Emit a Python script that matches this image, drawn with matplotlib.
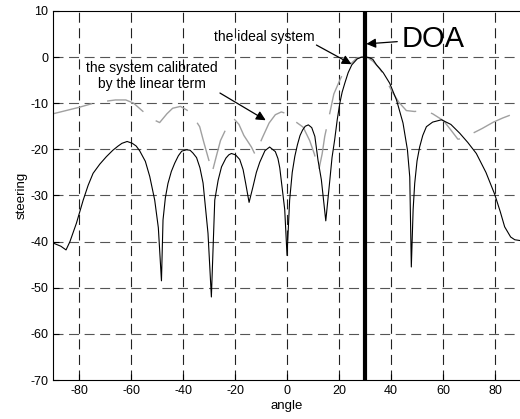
import matplotlib
matplotlib.use('Agg')
import matplotlib.pyplot as plt
import numpy as np

plt.rcParams['font.family'] = ['Liberation Sans', 'DejaVu Sans']
plt.rcParams['axes.unicode_minus'] = False

# ideal system (black solid)
ideal_angle = [-90, -87, -85, -83.5, -81, -78.4, -76.5, -74.6, -72, -69.5, -67, -65, -63.5, -61.5,
               -59.5, -58, -56.7, -54.5, -52.8, -50.9, -49.5, -48.3, -47.7, -46.8, -45.8, -44.5,
               -43.2, -41.8, -40.5, -38.7, -37.3, -36.2, -34.8, -33.5, -32.3, -30.4, -29.1,
               -27.8, -26.5, -25.2, -23.5, -22.4, -21.4, -19.8, -18.2, -16.9, -15.9, -14.6,
               -13.1, -11.8, -10.5, -8.5, -6.7, -4.5, -3.5, -2.8, -0.9, 0, 1, 2, 3, 4, 5, 6,
               7, 8.2, 9.5, 10.7, 11.9, 13.2, 14.9, 16.4, 17.3, 18.3, 19.3, 20.3, 21.2, 22.2,
               23.5, 24.9, 27, 28.5, 30, 31.5, 33, 34.4, 37, 39.5, 42.1, 44.6, 46.3, 47.2, 47.8,
               48.5, 49.1, 50, 51, 52.2, 53.6, 56, 59.4, 63, 66.4, 69.5, 72.8, 76.5, 79.9,
               82, 83.7, 86, 87.6, 90]
ideal_val = [-40.3, -41, -41.8, -40, -36, -31, -27.8, -25.2, -23.2, -21.6, -20.2, -19.3, -18.7,
             -18.3, -18.7, -19.3, -20.3, -22.6, -25.9, -31, -37, -48.5, -35.3, -30.5, -27.4,
             -24.8, -23, -21.4, -20.4, -20.1, -20.2, -20.8, -21.8, -24, -27.3, -38.2, -52,
             -31, -26.7, -23.8, -21.9, -21.2, -20.9, -21.2, -22.2, -24.4, -27.4, -31.5,
             -28.1, -25, -22.8, -20.3, -19.5, -20.5, -22, -24, -33, -43, -31, -25, -21.5,
             -19, -17, -15.8, -15, -14.7, -15.3, -17.2, -22.3, -26.6, -35.5, -27, -21.8, -18,
             -13.6, -10, -7.6, -5.7, -3.4, -1.7, -0.4, -0.05, 0, -0.1, -0.5, -1.7, -3.4, -5.7, -9.3,
             -14.3, -20.1, -26, -45.5, -33, -27.4, -22.5, -19.5, -17, -15.1, -14.1, -13.6,
             -14.6, -16.5, -18.5, -20.9, -25, -29.8, -33.5, -36.8, -39, -39.6, -39.8]

# system calibrated by the linear term (grey dashed)
calib_angle = [-90, -85, -80, -75, -70, -66, -62, -59, -56, -52, -49, -46.2, -44, -41, -38.5, -36,
               -33.6, -32, -30, -28.8, -27.2, -25.6, -23, -20.4, -18.5, -16.6, -13.7, -12.3, -9.5,
               -6.9, -4.5, -2.2, 0, 3, 6.2, 8.7, 10.5, 12.2, 13.5, 14.5, 16.5, 18, 20.3, 22,
               24.1, 26.7, 28.7, 30.6, 33, 35.7, 38, 40.2, 43, 45.9, 49, 53, 56, 60.2, 63,
               65.7, 68.5, 71.5, 75, 79.4, 83, 87.2, 90]
calib_val = [-12.3, -11.6, -10.9, -10.1, -9.6, -9.3, -9.3, -10.0, -11.5, -13.4, -14.2, -12.3, -11.1,
             -10.7, -11.5, -13.0, -15.1, -18.5, -22.5, -25, -21.5, -18.1, -15, -13.4, -14.6, -17,
             -19.5, -21.1, -17.5, -14.3, -12.5, -11.9, -12.3, -13.9, -15.2, -18.1, -21, -24.5, -21,
             -17.2, -12, -8, -5, -3, -1.7, -0.3, 0, 0, -0.9, -2.5, -4.8, -7.3, -9.8, -11.6, -11.8,
             -11.6, -12.3, -13.8, -15.8, -17.8, -17.6, -16.5, -15.5, -14.1, -13.2, -12.3, -12]

doa = 30
xticks = [-80, -60, -40, -20, 0, 20, 40, 60, 80]
yticks = [10, 0, -10, -20, -30, -40, -50, -60, -70]

fig = plt.figure(figsize=(5.2, 4.19), dpi=100)
ax = fig.add_axes([0.102, 0.093, 0.9, 0.881])

ax.plot(calib_angle, calib_val, color='#a0a0a0', lw=1.0, dashes=(29, 11))
ax.plot(ideal_angle, ideal_val, color='black', lw=0.8)
ax.axvline(doa, color='black', lw=3)

ax.set_xlim(-90, 90)
ax.set_ylim(-70, 10)
ax.set_xticks(xticks)
ax.set_yticks(yticks)
ax.tick_params(direction='in', length=4, labelsize=9, width=0.8)
for x in xticks:
    ax.axvline(x, color='#222222', lw=0.8, ls=(0, (9, 5)), zorder=0)
for y in yticks[1:-1]:
    ax.axhline(y, color='#555555', lw=0.8, ls=(0, (9, 5)), zorder=0)
for s in ax.spines.values():
    s.set_linewidth(0.8)

ax.set_xlabel('angle', fontsize=9.5, labelpad=2)
ax.set_ylabel('steering', fontsize=9.5, labelpad=2)

arrow = dict(arrowstyle='-|>', color='black', lw=0.9, mutation_scale=14, shrinkA=0, shrinkB=0)
ax.text(-8.8, 4.3, 'the ideal system', fontsize=10, ha='center', va='center')
ax.annotate('', xy=(24.8, -1.55), xytext=(11.3, 2.6), arrowprops=arrow)
ax.text(-52, -4.1, 'the system calibrated\nby the linear term', fontsize=10,
        ha='center', va='center', linespacing=1.15)
ax.annotate('', xy=(-8.2, -13.7), xytext=(-25.8, -7.8), arrowprops=arrow)
ax.annotate('DOA', xy=(30.5, 2.85), xytext=(44, 3.9), fontsize=21, ha='left', va='center',
            arrowprops=dict(arrowstyle='-|>', color='black', lw=0.9, mutation_scale=14,
                            shrinkA=1, shrinkB=0))

fig.savefig('out.png', dpi=100)
